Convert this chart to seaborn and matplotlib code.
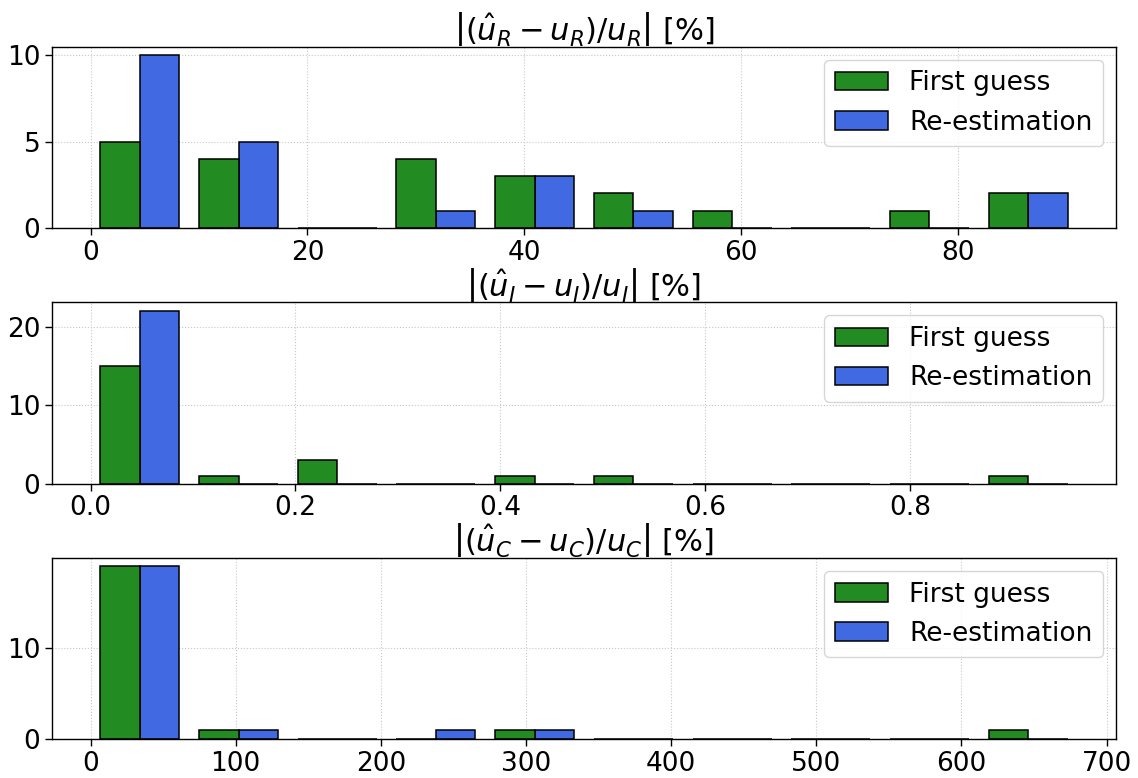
import numpy as np
import pandas as pd
import matplotlib
matplotlib.use("Agg")
import matplotlib.pyplot as plt
from matplotlib.patches import Patch
import seaborn as sns

# Histogram counts per bin (10 equal-width bins per panel)
series_names = ["First guess", "Re-estimation"]
series_colors = ["forestgreen", "royalblue"]

ur_range = (0.0, 91.0)
ur_first = [5, 4, 0, 4, 3, 2, 1, 0, 1, 2]
ur_reest = [10, 5, 0, 1, 3, 1, 0, 0, 0, 2]

ui_range = (0.0, 0.963)
ui_first = [15, 1, 3, 0, 1, 1, 0, 0, 0, 1]
ui_reest = [22, 0, 0, 0, 0, 0, 0, 0, 0, 0]

uc_range = (0.0, 680.0)
uc_first = [19, 1, 0, 0, 1, 0, 0, 0, 0, 1]
uc_reest = [19, 1, 0, 1, 1, 0, 0, 0, 0, 0]

titles = [
    r"$\left|(\hat{u}_R - u_R)/u_R\right|$ [%]",
    r"$\left|(\hat{u}_I - u_I)/u_I\right|$ [%]",
    r"$\left|(\hat{u}_C - u_C)/u_C\right|$ [%]",
]
xticks = [
    [0, 20, 40, 60, 80],
    [0.0, 0.2, 0.4, 0.6, 0.8],
    [0, 100, 200, 300, 400, 500, 600, 700],
]
yticks = [[0, 5, 10], [0, 10, 20], [0, 10]]

panels = [
    (ur_range, ur_first, ur_reest),
    (ui_range, ui_first, ui_reest),
    (uc_range, uc_first, uc_reest),
]

sns.set_style("white")
plt.rcParams["font.family"] = ["DejaVu Sans"]
plt.rcParams["mathtext.fontset"] = "dejavusans"
plt.rcParams["text.color"] = "black"
plt.rcParams["xtick.color"] = "black"
plt.rcParams["ytick.color"] = "black"
plt.rcParams["axes.labelcolor"] = "black"

fig, axes = plt.subplots(3, 1, figsize=(11.38, 7.78), dpi=100)
fig.subplots_adjust(left=0.0457, right=0.9807, top=0.94, bottom=0.05, hspace=0.41)

for ax, (rng, first, reest), title, xt, yt in zip(axes, panels, titles, xticks, yticks):
    edges = np.linspace(rng[0], rng[1], len(first) + 1)
    centers = 0.5 * (edges[:-1] + edges[1:])
    df = pd.DataFrame({
        "value": np.concatenate([centers, centers]),
        "count": np.concatenate([first, reest]),
        "series": [series_names[0]] * len(first) + [series_names[1]] * len(reest),
    })
    sns.histplot(
        data=df, x="value", weights="count", hue="series",
        hue_order=series_names, palette=dict(zip(series_names, series_colors)),
        bins=edges.tolist(), multiple="dodge", shrink=0.8, alpha=1.0,
        edgecolor="black", linewidth=1.1, legend=False, ax=ax,
    )
    ax.set_axisbelow(True)
    ax.grid(True, linestyle=":", color="#c8c8c8", linewidth=0.8)
    ax.set_xticks(xt)
    ax.set_yticks(yt)
    ax.tick_params(axis="both", labelsize=19, length=5, width=1, direction="out",
                   bottom=True, left=True, color="black", labelcolor="black")
    for s in ax.spines.values():
        s.set_visible(True)
        s.set_color("black")
        s.set_linewidth(1.0)
    ax.set_xlabel("")
    ax.set_ylabel("")
    ax.set_title(title, fontsize=22, pad=4, color="black")
    handles = [Patch(facecolor=c, edgecolor="black", linewidth=1.1) for c in series_colors]
    leg = ax.legend(handles, series_names, loc="upper right", fontsize=19,
                    frameon=True, framealpha=0.8, edgecolor="#cccccc", fancybox=True)
    for t in leg.get_texts():
        t.set_color("black")

fig.savefig("out.png", dpi=100)
